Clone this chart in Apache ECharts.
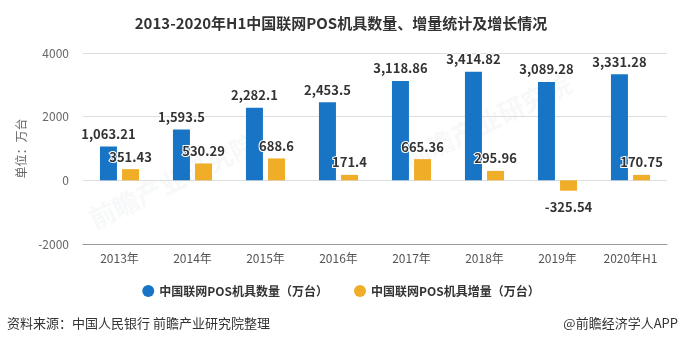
<!DOCTYPE html>
<html>
<head>
<meta charset="utf-8">
<script src="https://cdn.jsdelivr.net/npm/echarts@6/dist/echarts.min.js"></script>
<style>html,body{margin:0;padding:0;background:#fff;}#c{width:682px;height:346px;}</style>
</head>
<body>
<div id="c"></div>
<script>
const categories = ['2013年','2014年','2015年','2016年','2017年','2018年','2019年','2020年H1'];
const posCount = [1063.21, 1593.5, 2282.1, 2453.5, 3118.86, 3414.82, 3089.28, 3331.28];
const posIncrease = [351.43, 530.29, 688.6, 171.4, 665.36, 295.96, -325.54, 170.75];
const seriesNames = ['中国联网POS机具数量（万台）', '中国联网POS机具增量（万台）'];
const yTicks = [-2000, 0, 2000, 4000];

const FONT = '"Noto Sans CJK SC", "Noto Sans", sans-serif';
function fmt(v) {
  const s = String(v);
  const neg = s[0] === '-';
  const body = neg ? s.slice(1) : s;
  const parts = body.split('.');
  parts[0] = parts[0].replace(/\B(?=(\d{3})+(?!\d))/g, ',');
  return (neg ? '-' : '') + parts.join('.');
}
const labelStyle = {
  show: true, position: 'top', distance: 6,
  fontFamily: FONT, fontSize: 13, fontWeight: 'bold', color: '#333',
  textBorderColor: '#fff', textBorderWidth: 2,
  formatter: p => fmt(p.value)
};
const chart = echarts.init(document.getElementById('c'), null, {renderer: 'canvas'});
chart.setOption({
  backgroundColor: '#fff',
  animation: false,
  title: {
    text: '2013-2020年H1中国联网POS机具数量、增量统计及增长情况',
    left: 'center', top: 11,
    textStyle: {fontFamily: FONT, fontSize: 15, fontWeight: 'bold', color: '#333'}
  },
  legend: {
    bottom: 44, left: 'center', itemGap: 26,
    icon: 'circle', itemWidth: 12, itemHeight: 12,
    textStyle: {fontFamily: FONT, fontSize: 12, fontWeight: 'bold', color: '#333'},
    data: seriesNames
  },
  grid: {left: 83, right: 15, top: 53, bottom: 102, containLabel: false},
  xAxis: {
    type: 'category', data: categories,
    axisLine: {onZero: false, lineStyle: {color: '#999'}},
    axisTick: {alignWithLabel: true, length: 5, lineStyle: {color: '#999'}},
    axisLabel: {fontFamily: FONT, fontSize: 12, color: '#555', margin: 8}
  },
  yAxis: {
    type: 'value', min: yTicks[0], max: yTicks[yTicks.length - 1], interval: 2000,
    name: '单位：万台', nameLocation: 'middle', nameGap: 46, nameRotate: 90,
    nameTextStyle: {fontFamily: FONT, fontSize: 12, color: '#666'},
    axisLine: {show: false}, axisTick: {show: false},
    axisLabel: {fontFamily: FONT, fontSize: 12, color: '#666', margin: 14, formatter: v => String(v)},
    splitLine: {lineStyle: {color: '#ddd'}}
  },
  series: [
    {
      name: seriesNames[0], type: 'bar', barWidth: 17, barGap: '30%',
      itemStyle: {color: '#1875c6'},
      label: labelStyle,
      data: posCount
    },
    {
      name: seriesNames[1], type: 'bar', barWidth: 17,
      itemStyle: {color: '#f0ad28'},
      label: labelStyle,
      data: posIncrease.map(v => v < 0 ? {value: v, label: {position: 'bottom', distance: 10}} : v)
    }
  ],
  graphic: [
    {type: 'text', left: 85, top: 130, rotation: Math.PI / 7, silent: true, z: -1,
     style: {text: '前瞻产业研究院', fontFamily: FONT, fontSize: 26, fontWeight: 'bold', fill: 'rgba(200,205,215,0.15)'}},
    {type: 'text', left: 400, top: 70, rotation: Math.PI / 7, silent: true, z: -1,
     style: {text: '前瞻产业研究院', fontFamily: FONT, fontSize: 26, fontWeight: 'bold', fill: 'rgba(200,205,215,0.15)'}},
    {type: 'text', left: 7, top: 317,
     style: {text: '资料来源：中国人民银行 前瞻产业研究院整理', fontFamily: FONT, fontSize: 13, fill: '#333'}},
    {type: 'text', right: 4, top: 317,
     style: {text: '@前瞻经济学人APP', fontFamily: FONT, fontSize: 13, fill: '#333'}}
  ]
});
</script>
</body>
</html>
